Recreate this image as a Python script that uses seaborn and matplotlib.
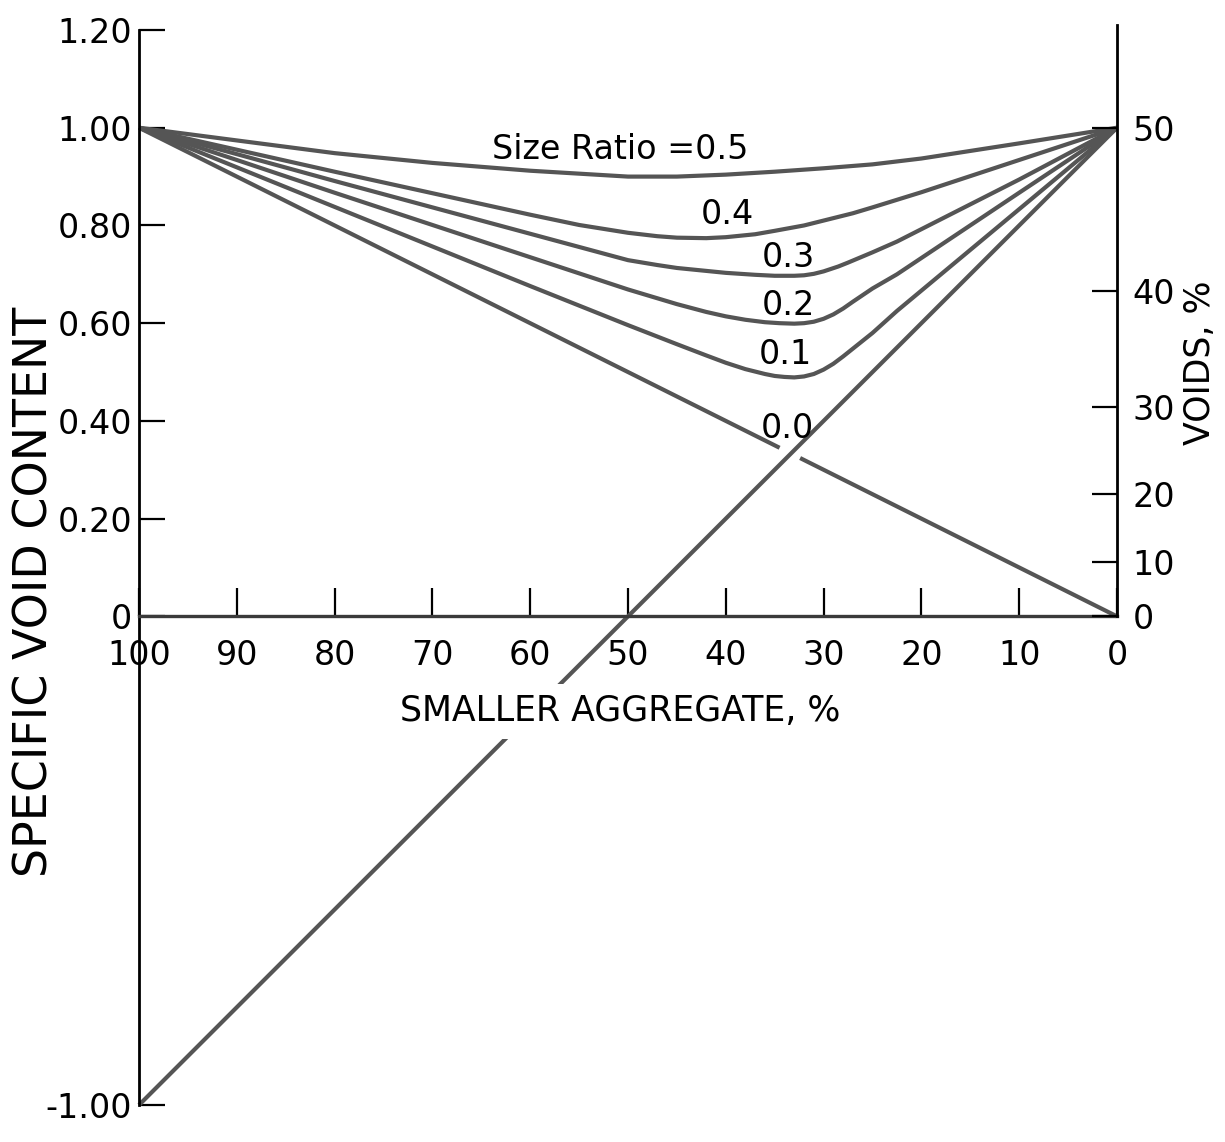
import numpy as np
import pandas as pd
import matplotlib
matplotlib.use("Agg")
import matplotlib.pyplot as plt
import seaborn as sns

# ---------------- data ----------------
# x: smaller aggregate, %   v: specific void content
ratio_05_x = [100, 90, 80, 70, 60, 50, 45, 40, 35, 30, 25, 20, 10, 0]
ratio_05_v = [1.0, 0.974, 0.948, 0.928, 0.912, 0.900, 0.900, 0.904, 0.910, 0.917, 0.925, 0.937, 0.968, 1.0]

ratio_04_x = [100, 90, 80, 70, 60, 55, 50, 47, 45, 42, 40, 37, 35, 32, 30, 27, 25, 20, 10, 0]
ratio_04_v = [1.0, 0.955, 0.910, 0.866, 0.822, 0.801, 0.785, 0.778, 0.775, 0.774, 0.776, 0.782, 0.789, 0.800, 0.810, 0.825, 0.837, 0.868, 0.934, 1.0]

ratio_03_x = [100, 90, 80, 70, 60, 50, 47, 45, 42, 40, 37, 35, 33, 32, 31, 30, 28.5, 27.5, 25, 22.5, 10, 0]
ratio_03_v = [1.0, 0.946, 0.891, 0.837, 0.783, 0.729, 0.719, 0.713, 0.707, 0.703, 0.699, 0.697, 0.697, 0.698, 0.701, 0.706, 0.716, 0.724, 0.745, 0.767, 0.894, 1.0]

ratio_02_x = [100, 90, 80, 70, 60, 50, 45, 42, 40, 38, 36, 34.5, 33, 32, 31, 30, 29, 28, 27, 25, 22.5, 10, 0]
ratio_02_v = [1.0, 0.934, 0.867, 0.801, 0.735, 0.669, 0.639, 0.623, 0.614, 0.607, 0.602, 0.600, 0.599, 0.600, 0.603, 0.609, 0.618, 0.630, 0.644, 0.671, 0.700, 0.867, 1.0]

ratio_01_x = [100, 90, 80, 70, 60, 50, 45, 42, 40, 38, 36, 35, 34, 33, 32, 31, 30, 29, 28, 26.5, 25, 22.5, 0]
ratio_01_v = [1.0, 0.919, 0.838, 0.757, 0.676, 0.596, 0.557, 0.534, 0.519, 0.506, 0.496, 0.492, 0.490, 0.489, 0.491, 0.496, 0.505, 0.517, 0.532, 0.556, 0.580, 0.625, 1.0]

# size ratio 0.0 (drawn in two pieces, broken where the diagonal crosses)
ratio_00a_x = [100, 34.5]
ratio_00a_v = [1.0, 0.345]
ratio_00b_x = [32.4, 0]
ratio_00b_v = [0.324, 0.0]

# diagonal line
diag_x = [100, 0]
diag_v = [-1.0, 1.0]

curve_labels = ["Size Ratio =0.5", "0.4", "0.3", "0.2", "0.1", "0.0"]
curve_label_x = [50.8, 39.8, 33.6, 33.6, 33.9, 33.7]
curve_label_v = [0.937, 0.804, 0.714, 0.616, 0.517, 0.364]

x_ticks = [100, 90, 80, 70, 60, 50, 40, 30, 20, 10, 0]
x_ticklabels = ["100", "90", "80", "70", "60", "50", "40", "30", "20", "10", "0"]
left_ticks = [1.20, 1.00, 0.80, 0.60, 0.40, 0.20, 0.0, -1.00]
left_ticklabels = ["1.20", "1.00", "0.80", "0.60", "0.40", "0.20", "0", "-1.00"]
voids_pct = [0, 10, 20, 30, 40, 50]

# ---------------- build long table ----------------
segments = [
    ("r05", ratio_05_x, ratio_05_v),
    ("r04", ratio_04_x, ratio_04_v),
    ("r03", ratio_03_x, ratio_03_v),
    ("r02", ratio_02_x, ratio_02_v),
    ("r01", ratio_01_x, ratio_01_v),
    ("r00a", ratio_00a_x, ratio_00a_v),
    ("r00b", ratio_00b_x, ratio_00b_v),
    ("diag", diag_x, diag_v),
]
rows = []
for name, xs, vs in segments:
    for xx, vv in zip(xs, vs):
        rows.append({"seg": name, "x": xx, "v": vv})
df = pd.DataFrame(rows)

# ---------------- figure ----------------
sns.set_theme(style="white")
plt.rcParams["font.family"] = ["DejaVu Sans"]

W, H = 1225, 1142
fig = plt.figure(figsize=(W / 100, H / 100), dpi=100)
ax = fig.add_axes([139 / W, (H - 1105) / H, (1117 - 139) / W, (1105 - 30) / H])
ax.set_facecolor("white")

line_color = "#555555"
sns.lineplot(data=df, x="x", y="v", units="seg", estimator=None, sort=False,
             color=line_color, lw=3.0, ax=ax, legend=False)
for ln in ax.get_lines():
    ln.set_solid_capstyle("butt")
    ln.set_solid_joinstyle("round")
    ln.set_clip_on(False)

ax.set_xlim(100, 0)
ax.set_ylim(-1.0, 1.2)

# spines
for s in ["top", "right"]:
    ax.spines[s].set_visible(False)
ax.spines["left"].set_color("black")
ax.spines["left"].set_linewidth(2.0)
ax.spines["bottom"].set_position(("data", 0))
ax.spines["bottom"].set_color("#3a3a3a")
ax.spines["bottom"].set_linewidth(2.4)

tick_fs = 24
ax.set_xticks(x_ticks)
ax.set_xticklabels(x_ticklabels, fontsize=tick_fs)
ax.tick_params(axis="x", direction="in", length=20, width=1.6, pad=16,
               colors="black", bottom=True)
ax.set_yticks(left_ticks)
ax.set_yticklabels(left_ticklabels, fontsize=tick_fs)
ax.tick_params(axis="y", direction="in", length=19, width=1.6, pad=5,
               colors="black", left=True)
ax.set_xlabel("")
ax.set_ylabel("")

# right axis (voids %)
ax2 = ax.twinx()
ax2.set_ylim(ax.get_ylim())
right_pos = [p / (100 - p) for p in voids_pct]
ax2.set_yticks(right_pos)
ax2.set_yticklabels([str(p) for p in voids_pct], fontsize=tick_fs)
ax2.tick_params(axis="y", direction="in", length=18, width=1.6, pad=11,
                colors="black", right=True)
for s in ["top", "left", "bottom"]:
    ax2.spines[s].set_visible(False)
ax2.spines["right"].set_bounds(0, 1.21)
ax2.spines["right"].set_color("black")
ax2.spines["right"].set_linewidth(2.0)
ax2.grid(False)
ax.grid(False)

# curve labels
for txt, xx, vv in zip(curve_labels, curve_label_x, curve_label_v):
    ax.text(xx, vv, txt, ha="center", va="baseline", fontsize=tick_fs,
            color="black", zorder=6)

# x label with white box (interrupts the diagonal)
ax.text(50.8, -0.194, "SMALLER AGGREGATE, %", ha="center", va="center",
        fontsize=25, color="black", zorder=6,
        bbox=dict(boxstyle="square,pad=0.3", fc="white", ec="none"))

# axis titles
fig.text(35 / W, 1 - 592 / H, "SPECIFIC VOID CONTENT", rotation=90,
         ha="center", va="center", fontsize=33, color="black")
fig.text(1200 / W, 1 - 363 / H, "VOIDS, %", rotation=90,
         ha="center", va="center", fontsize=25, color="black")

fig.savefig("out.png", dpi=100, facecolor="white")
